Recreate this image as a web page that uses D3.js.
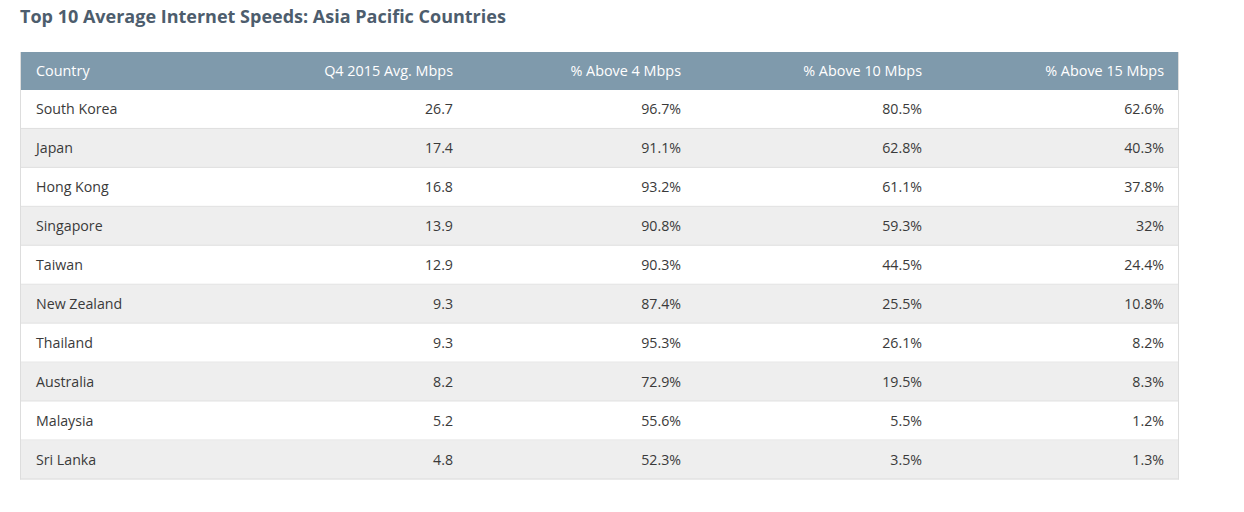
<!DOCTYPE html>
<html>
<head>
<meta charset="utf-8">
<script src="https://cdn.jsdelivr.net/npm/d3@7"></script>
<style>
  body { margin: 0; background: #fff; }
  svg { display: block; font-family: "Open Sans", sans-serif; }
</style>
</head>
<body>
<svg id="chart"></svg>
<script>
const title = "Top 10 Average Internet Speeds: Asia Pacific Countries";
const headers = ["Country", "Q4 2015 Avg. Mbps", "% Above 4 Mbps", "% Above 10 Mbps", "% Above 15 Mbps"];
const countries = ["South Korea", "Japan", "Hong Kong", "Singapore", "Taiwan", "New Zealand", "Thailand", "Australia", "Malaysia", "Sri Lanka"];
const avgMbps = [26.7, 17.4, 16.8, 13.9, 12.9, 9.3, 9.3, 8.2, 5.2, 4.8];
const above4 = [96.7, 91.1, 93.2, 90.8, 90.3, 87.4, 95.3, 72.9, 55.6, 52.3];
const above10 = [80.5, 62.8, 61.1, 59.3, 44.5, 25.5, 26.1, 19.5, 5.5, 3.5];
const above15 = [62.6, 40.3, 37.8, 32, 24.4, 10.8, 8.2, 8.3, 1.2, 1.3];

let width = 1244;
let height = 512;
let tblLeft = 20;
let tblRight = 1179;
let tblTop = 52;
let headH = 38;
let rowH = 38.95;
let pad = 15;

// column right edges (layout only)
let colEdges = [tblLeft, 468, 696, 937, tblRight];

let rows = countries.map((c, i) => [
    c,
    String(avgMbps[i]),
    above4[i] + "%",
    above10[i] + "%",
    above15[i] + "%"
]);

let svg = d3.select('#chart')
    .attr('width', width)
    .attr('height', height)

svg.append('text')
   .attr('x', 20)
   .attr('y', 23)
   .attr('font-size', 18)
   .attr('font-weight', 700)
   .attr('fill', '#4d5d6d')
   .text(title)

let yScale = d3.scaleBand()
    .domain(d3.range(rows.length))
    .range([tblTop + headH, tblTop + headH + rowH * rows.length])

// x position of text for column j
let textX = (j) => j === 0 ? tblLeft + 16 : colEdges[j] - pad;
let anchor = (j) => j === 0 ? 'start' : 'end';

// header
svg.append('rect')
   .attr('x', tblLeft)
   .attr('y', tblTop)
   .attr('width', tblRight - tblLeft)
   .attr('height', headH)
   .attr('fill', '#7f9aac')

svg.append('g')
   .selectAll('text')
   .data(headers)
   .enter()
   .append('text')
   .attr('x', (_d, j) => textX(j))
   .attr('y', tblTop + headH / 2)
   .attr('dy', '0.35em')
   .attr('text-anchor', (_d, j) => anchor(j))
   .attr('font-size', 14.4)
   .attr('fill', '#ffffff')
   .text(d => d)

// body rows
let rowG = svg.append('g')
   .selectAll('g')
   .data(rows)
   .enter()
   .append('g')
   .attr('transform', (_d, i) => `translate(0, ${yScale(i)})`)

rowG.append('rect')
   .attr('x', tblLeft + 0.5)
   .attr('y', 0)
   .attr('width', tblRight - tblLeft - 1)
   .attr('height', yScale.bandwidth())
   .attr('fill', (_d, i) => i % 2 === 0 ? '#ffffff' : '#eeeeee')

rowG.append('line')
   .attr('x1', tblLeft)
   .attr('x2', tblRight)
   .attr('y1', yScale.bandwidth() - 0.5)
   .attr('y2', yScale.bandwidth() - 0.5)
   .attr('stroke', '#dddddd')

rowG.selectAll('text')
   .data(d => d)
   .enter()
   .append('text')
   .attr('x', (_d, j) => textX(j))
   .attr('y', yScale.bandwidth() / 2)
   .attr('dy', '0.35em')
   .attr('text-anchor', (_d, j) => anchor(j))
   .attr('font-size', 14.2)
   .attr('fill', '#3a3a3a')
   .text(d => d)

// outer border of body
let bodyBottom = tblTop + headH + rowH * rows.length;
svg.append('path')
   .attr('d', `M${tblLeft + 0.5},${tblTop} V${bodyBottom} M${tblRight - 0.5},${tblTop} V${bodyBottom}`)
   .attr('stroke', '#dddddd')
   .attr('fill', 'none')
</script>
</body>
</html>
